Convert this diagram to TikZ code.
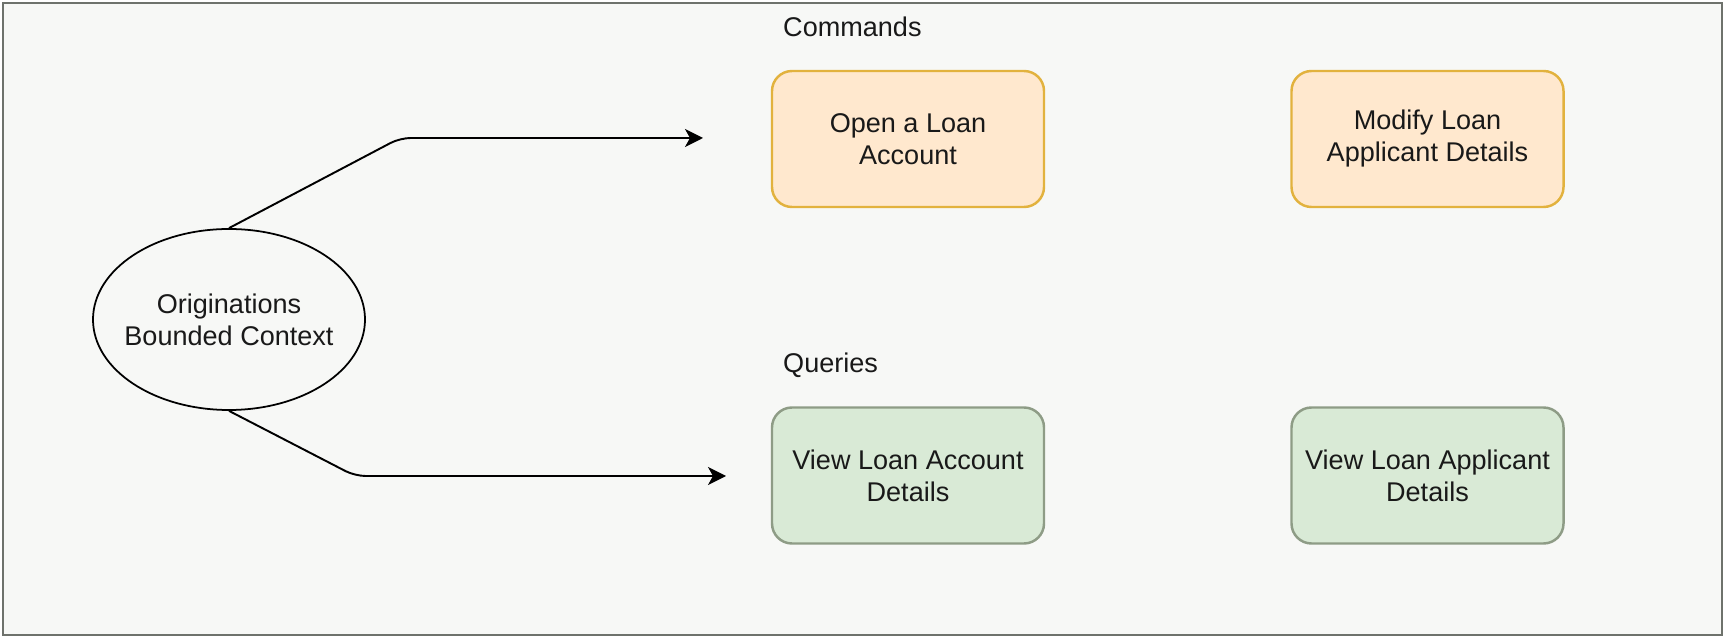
\documentclass[tikz,border=0pt]{standalone}
\usepackage{fontspec}
\setmainfont{Liberation Sans}
\usetikzlibrary{arrows.meta,shapes.geometric}
\definecolor{bgcol}{HTML}{F7F8F6}
\definecolor{framecol}{HTML}{6E726C}
\definecolor{cmdfill}{HTML}{FFE8CE}
\definecolor{cmdline}{HTML}{E2B23E}
\definecolor{qryfill}{HTML}{D9EAD6}
\definecolor{qryline}{HTML}{8E9C86}
\tikzset{
    every node/.style={font=\fontsize{15.4pt}{18.2pt}\selectfont, text=black!90},
    cmdbox/.style={draw=cmdline, fill=cmdfill, line width=1.4pt, rounded corners=0.4cm,
        minimum width=5.44cm, minimum height=2.72cm, align=center, inner sep=0pt},
    qrybox/.style={cmdbox, draw=qryline, fill=qryfill},
    flow/.style={-{Stealth[length=0.36cm,width=0.36cm,inset=0.1cm]}, line width=1.1pt,
        rounded corners=6pt}
}
\begin{document}
\begin{tikzpicture}
            \useasboundingbox (0, 0) rectangle (34.5, -12.8);
            \draw [framecol, fill=bgcol, line width=1.2pt] (0.06, -0.06) rectangle (34.44, -12.7);
            \node [draw, ellipse, line width=1pt, minimum width=5.44cm, minimum height=3.62cm,
                inner xsep=-0.2cm, inner ysep=0pt, align=center] (ctx) at (4.58, -6.39) {Originations\\Bounded Context};
            \node [anchor=west] (cmds) at (15.54, -0.54) {Commands};
            \node [anchor=west] (qrys) at (15.54, -7.3) {Queries};
            \node [cmdbox] (open) at (18.16, -2.78) {Open a Loan\\Account};
            \node [cmdbox] (modify) at (28.55, -2.78) {Modify Loan\\Applicant Details};
            \node [qrybox] (viewacc) at (18.16, -9.51) {View Loan Account\\Details};
            \node [qrybox] (viewapp) at (28.55, -9.51) {View Loan Applicant\\Details};
            \coordinate (cmdend) at (14.06, -2.76);
            \coordinate (qryend) at (14.52, -9.52);
            \draw [flow] (ctx.north) -- (8.0, -2.76) -- (cmdend);
            \draw [flow] (ctx.south) -- (7.1, -9.52) -- (qryend);
        \end{tikzpicture}
\end{document}
